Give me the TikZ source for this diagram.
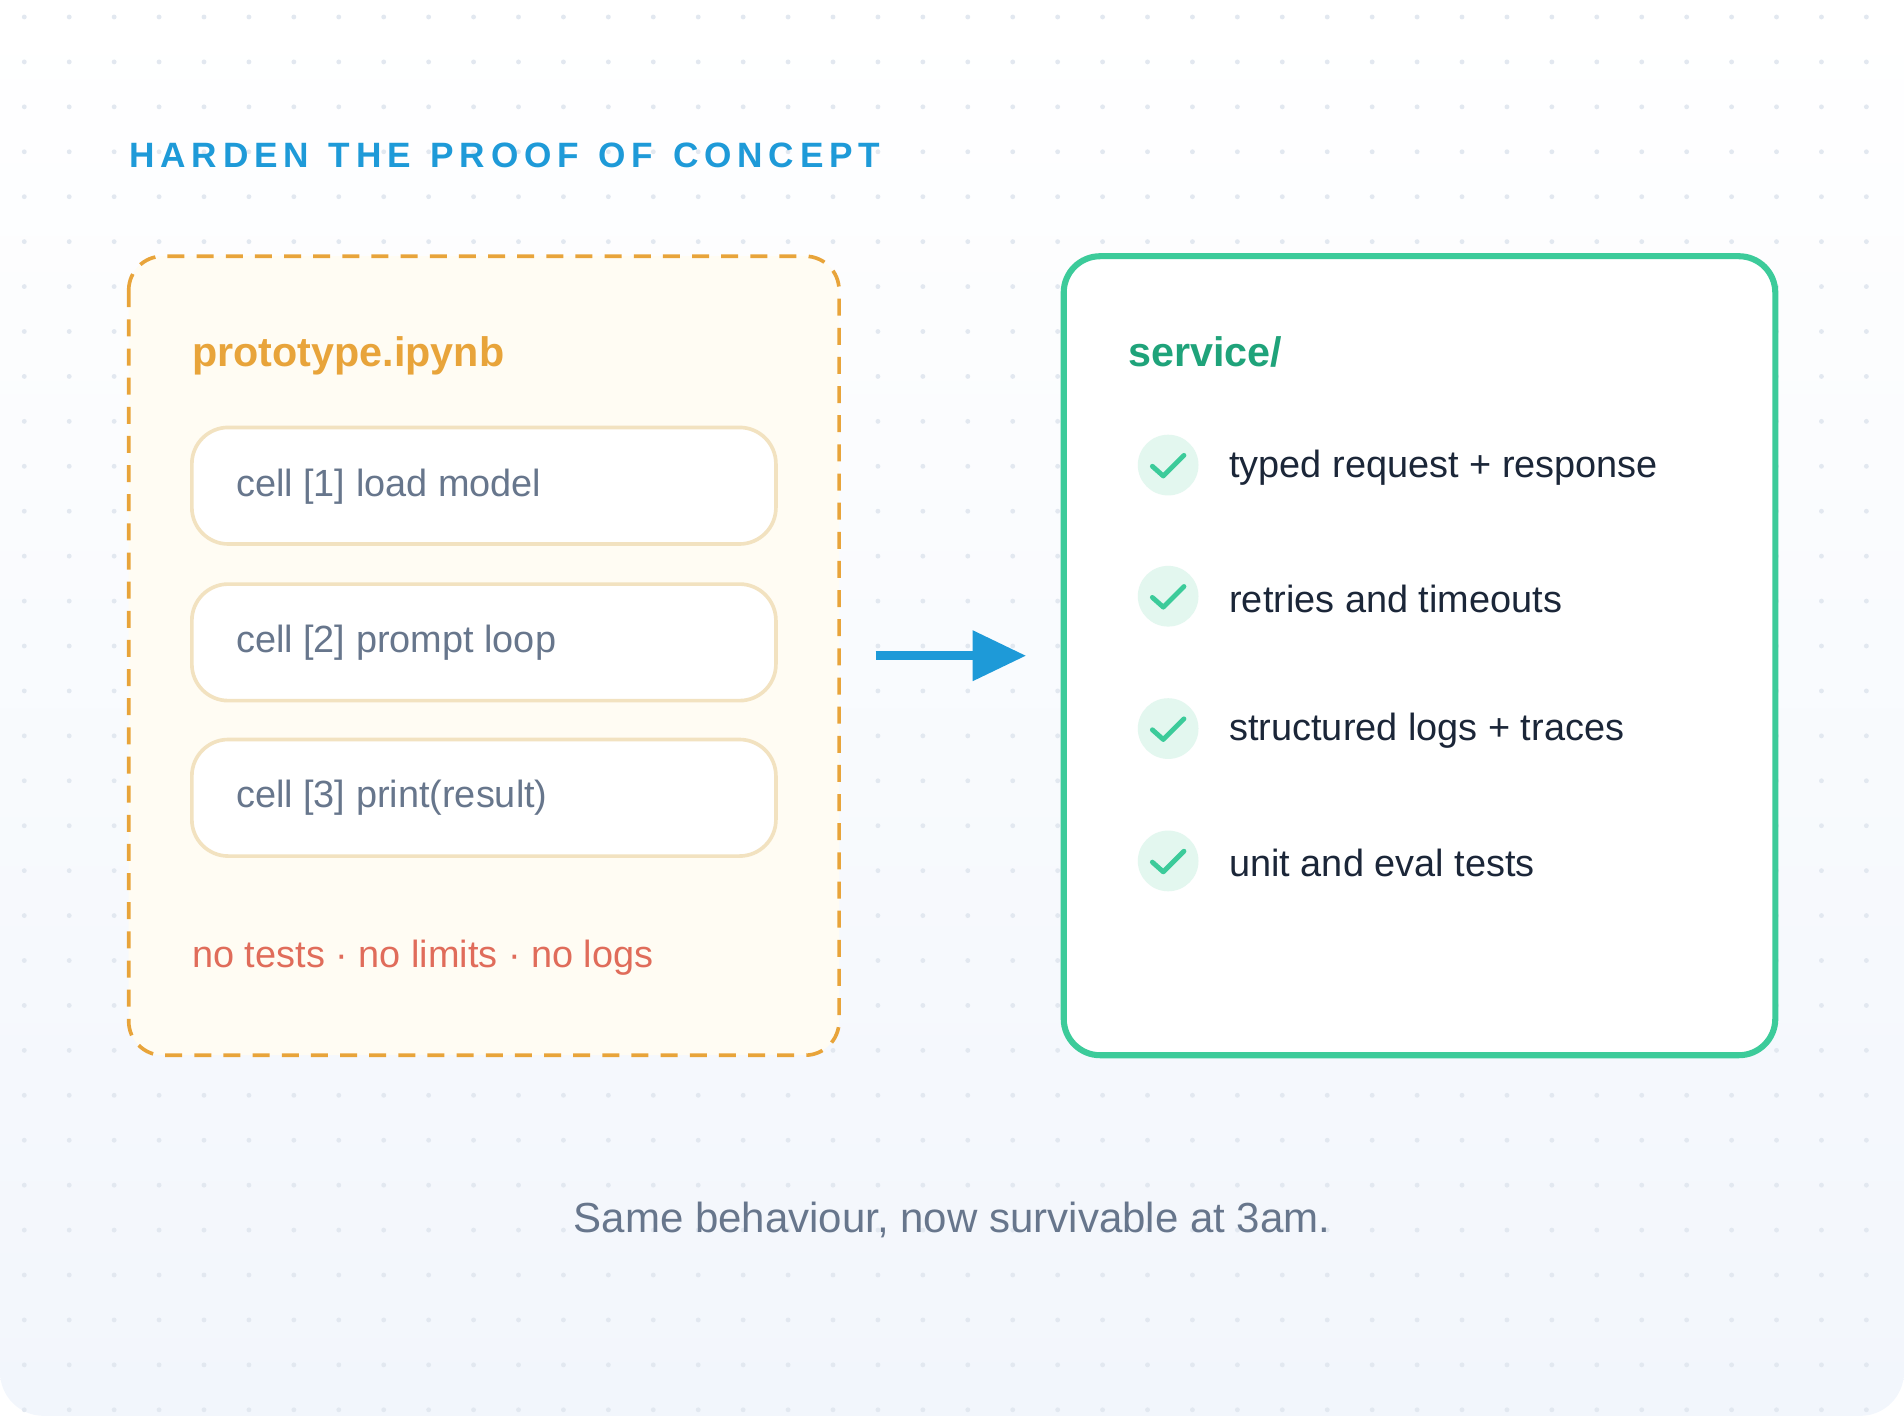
\documentclass[tikz,border=0pt]{standalone}
\usepackage{fontspec}
\setmainfont{Liberation Sans}
\usetikzlibrary{arrows.meta}
\definecolor{bgtop}{HTML}{FFFFFF}
\definecolor{bgbot}{HTML}{F2F6FC}
\definecolor{dotc}{HTML}{E2E8F0}
\definecolor{ttl}{HTML}{1E9AD8}
\definecolor{orng}{HTML}{E8A43A}
\definecolor{cream}{HTML}{FFFCF3}
\definecolor{cellb}{HTML}{F2E2C0}
\definecolor{gtext}{HTML}{67768C}
\definecolor{redt}{HTML}{E06C5A}
\definecolor{grn}{HTML}{3CCB9A}
\definecolor{grnt}{HTML}{1FA37A}
\definecolor{chkbg}{HTML}{E3F7EF}
\definecolor{dark}{HTML}{1B2638}
\begin{document}
\begin{tikzpicture}[x=0.5pt,y=-0.5pt,inner sep=0pt,
  cell/.style={draw=cellb,line width=1.5pt,fill=white,rounded corners=15pt},
  celltxt/.style={anchor=west,text=gtext,font=\fontsize{15.6}{18}\selectfont},
  chk/.style={circle,fill=chkbg,minimum size=25pt,inner sep=0pt},
  itm/.style={anchor=west,text=dark,font=\fontsize{15.6}{18}\selectfont}]
\useasboundingbox (0,0) rectangle (1568,1166);
\shade[top color=bgtop,bottom color=bgbot,rounded corners=18pt] (0,0) rectangle (1568,1166);
\foreach \i in {0,...,42}{\foreach \j in {0,...,31}{
  \fill[dotc] (20+37*\i,14+37*\j) circle (1pt);}}
\node[anchor=base west,text=ttl,font=\bfseries\fontsize{14.5}{17}\selectfont] (title) at (106,138) {H\,A\,R\,D\,E\,N\ \ T\,H\,E\ \ P\,R\,O\,O\,F\ \ O\,F\ \ C\,O\,N\,C\,E\,P\,T};
% left
\draw[orng,line width=1.5pt,dash pattern=on 7pt off 5pt,fill=cream,rounded corners=14pt] (106,211) rectangle (691,869);
\node[anchor=base west,text=orng,font=\bfseries\fontsize{17}{20}\selectfont] (proto) at (158,302) {prototype.ipynb};
\draw[cell] (158,352) rectangle (639,448);
\node[celltxt] (c1) at (194,401) {cell [1] load model};
\draw[cell] (158,481) rectangle (639,577);
\node[celltxt] (c2) at (194,529) {cell [2] prompt loop};
\draw[cell] (158,609) rectangle (639,705);
\node[celltxt] (c3) at (194,657) {cell [3] print(result)};
\node[anchor=base west,text=redt,font=\fontsize{15.6}{18}\selectfont] (no) at (158,797) {no tests · no limits · no logs};
% arrow
\coordinate (a1) at (721,540); \coordinate (a2) at (845,540);
\draw[ttl,line width=3.5pt,-{Triangle[length=22pt,width=20pt]}] (a1) -- (a2);
% right
\draw[grn,line width=2.5pt,fill=white,rounded corners=15pt] (876,211) rectangle (1462,869);
\node[anchor=base west,text=grnt,font=\bfseries\fontsize{17}{20}\selectfont] (svc) at (929,302) {service/};
\foreach \y/\t/\n in {383/typed request + response/i1,491/retries and timeouts/i2,600/structured logs + traces/i3,709/unit and eval tests/i4}{
  \node[chk] (k\n) at (962,\y) {};
  \draw[grn,line width=2pt,line cap=round,line join=round] (949,\y+1) -- (958,\y+9) -- (975,\y-8);
  \node[itm] (\n) at (1012,\y+2) {\t};
}
\node[text=gtext,font=\fontsize{17.3}{20}\selectfont] (foot) at (784,1005) {Same behaviour, now survivable at 3am.};
\end{tikzpicture}
\end{document}
